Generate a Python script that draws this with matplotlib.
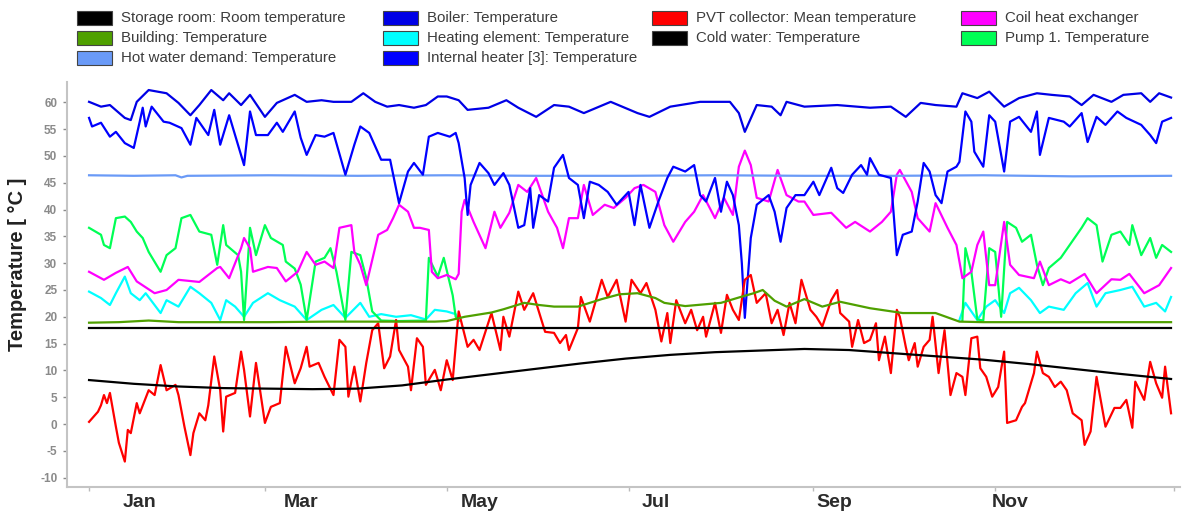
import matplotlib.pyplot as plt
from matplotlib.patches import Rectangle
import numpy as np

plt.rcParams['font.family'] = ['Liberation Sans', 'DejaVu Sans']
plt.rcParams['axes.unicode_minus'] = False

# day of year -> temperature [degC]
storage_room = [(0, 17.9), (363, 17.9)]
cold_water = [(0, 8.2), (15, 7.5), (30, 7.0), (45, 6.7), (60, 6.6), (75, 6.5), (90, 6.6),
              (105, 7.2), (120, 8.3), (135, 9.3), (150, 10.3), (165, 11.3), (180, 12.2),
              (195, 12.9), (210, 13.4), (225, 13.7), (240, 14.0), (255, 13.8), (270, 13.2),
              (285, 12.6), (300, 12.0), (315, 11.2), (330, 10.3), (345, 9.4), (363, 8.4)]
building = [(0, 18.9), (10, 19.0), (20, 19.3), (30, 19.0), (45, 19.0), (60, 19.0), (80, 19.1),
            (100, 19.1), (116, 19.1), (120, 19.2), (126, 20.0), (135, 20.8), (139, 21.4),
            (146, 22.6), (151, 22.2), (156, 21.9), (164, 21.9), (172, 23.3), (178, 24.2),
            (184, 24.4), (190, 23.5), (193, 22.6), (200, 22.0), (208, 22.4), (212, 22.6),
            (218, 23.6), (223, 24.4), (226, 25.0), (230, 23.0), (234, 21.9), (240, 23.3),
            (246, 21.9), (252, 22.8), (262, 21.6), (273, 20.7), (284, 20.7), (292, 19.1),
            (300, 19.0), (330, 19.0), (363, 19.0)]
hot_water = [(0, 46.4), (15, 46.3), (29, 46.4), (31, 46.0), (33, 46.3), (60, 46.4), (90, 46.3),
             (120, 46.4), (150, 46.3), (180, 46.3), (210, 46.4), (240, 46.3), (270, 46.3),
             (300, 46.4), (330, 46.2), (363, 46.3)]
boiler = [(0, 60.1), (4, 59.2), (7, 59.5), (12, 57.1), (14, 56.7), (16, 60.1), (20, 62.3),
          (26, 61.7), (30, 59.9), (34, 57.6), (37, 59.5), (41, 62.3), (45, 60.4), (47, 61.7),
          (51, 59.5), (54, 61.4), (59, 57.3), (63, 59.9), (69, 61.4), (73, 60.1), (78, 60.4),
          (82, 60.1), (88, 60.1), (92, 61.7), (96, 60.1), (100, 59.2), (104, 59.5), (109, 59.0),
          (113, 59.5), (117, 61.1), (120, 61.1), (124, 60.4), (127, 58.6), (134, 59.0),
          (140, 60.4), (144, 59.0), (150, 57.3), (156, 59.5), (161, 59.2), (166, 58.0),
          (175, 60.1), (184, 58.0), (188, 57.3), (195, 59.2), (205, 60.1), (215, 60.1),
          (218, 58.0), (220, 54.5), (224, 59.5), (229, 59.2), (232, 57.6), (234, 60.1),
          (240, 59.2), (251, 59.5), (262, 59.0), (269, 59.2), (274, 57.3), (279, 59.9),
          (284, 59.5), (291, 59.2), (293, 61.7), (298, 60.8), (302, 62.0), (307, 59.2),
          (312, 60.8), (318, 61.7), (323, 61.4), (329, 61.1), (333, 59.5), (337, 61.4),
          (343, 60.1), (347, 61.4), (353, 61.7), (356, 60.1), (359, 61.7), (363, 60.9)]
internal_heater = [(0, 57.1), (1, 55.5), (4, 56.2), (7, 53.6), (9, 54.5), (12, 52.4), (15, 51.5),
                   (17, 56.4), (18, 59.0), (19, 55.5), (21, 59.2), (25, 56.4), (27, 56.2),
                   (31, 55.2), (34, 52.1), (36, 57.1), (40, 53.9), (42, 58.6), (44, 52.1),
                   (47, 57.6), (52, 48.3), (54, 58.3), (56, 53.9), (60, 53.9), (63, 56.2),
                   (65, 54.5), (69, 58.3), (71, 53.4), (73, 50.2), (76, 53.9), (79, 53.6),
                   (82, 54.3), (86, 46.5), (89, 52.1), (91, 55.5), (94, 54.3), (98, 49.3),
                   (101, 49.3), (104, 41.2), (107, 47.1), (109, 48.7), (112, 46.5), (114, 53.6),
                   (117, 54.3), (121, 53.6), (123, 54.3), (124, 52.4), (126, 45.9), (127, 39.0),
                   (128, 44.6), (131, 48.7), (134, 46.8), (136, 44.6), (139, 46.8), (141, 44.6),
                   (144, 36.6), (146, 37.1), (148, 44.0), (149, 36.6), (151, 42.7), (154, 41.5),
                   (156, 47.8), (159, 50.2), (161, 45.9), (164, 44.6), (166, 38.4), (168, 45.2),
                   (171, 44.6), (174, 43.3), (177, 40.9), (181, 43.3), (183, 37.1), (185, 44.6),
                   (188, 36.6), (191, 41.5), (194, 45.9), (196, 48.0), (200, 47.1), (203, 48.3),
                   (205, 42.7), (207, 41.5), (210, 45.9), (212, 39.6), (214, 45.2), (216, 42.7),
                   (218, 37.1), (219, 30.0), (220, 19.8), (222, 34.7), (224, 40.9), (228, 42.7),
                   (230, 39.6), (232, 34.0), (234, 40.3), (237, 42.7), (240, 42.7), (243, 45.2),
                   (245, 42.7), (249, 47.8), (251, 44.0), (253, 43.1), (256, 46.5), (259, 48.3),
                   (261, 46.5), (262, 49.6), (265, 46.5), (269, 45.9), (271, 31.5), (273, 35.3),
                   (276, 35.9), (278, 41.5), (280, 48.7), (282, 47.1), (284, 42.7), (286, 41.2),
                   (288, 47.1), (291, 48.0), (292, 48.9), (294, 58.3), (296, 56.4), (297, 50.8),
                   (300, 48.0), (302, 57.6), (304, 56.4), (307, 47.1), (309, 56.4), (312, 57.3),
                   (316, 54.5), (318, 58.3), (319, 50.2), (322, 57.1), (327, 56.4), (329, 55.5),
                   (333, 58.0), (335, 52.6), (338, 57.3), (341, 55.8), (345, 58.3), (348, 57.1),
                   (353, 55.8), (356, 53.9), (358, 52.4), (360, 56.4), (363, 57.1)]
heating_element = [(0, 24.7), (4, 23.5), (7, 22.2), (9, 24.4), (12, 27.5), (14, 24.4), (17, 23.1),
                   (19, 24.4), (24, 20.7), (26, 23.1), (30, 21.9), (34, 25.6), (37, 24.4),
                   (41, 22.6), (44, 19.4), (46, 23.1), (49, 21.9), (52, 20.0), (55, 22.6),
                   (60, 24.4), (64, 23.1), (69, 21.9), (73, 19.4), (78, 21.3), (82, 22.2),
                   (86, 19.8), (91, 22.6), (94, 20.0), (98, 20.5), (103, 20.0), (108, 20.3),
                   (113, 19.5), (116, 21.3), (120, 21.0), (123, 20.5), (124, 19.2),
                   (200, np.nan),
                   (292, 19.4), (294, 22.6), (298, 19.4), (301, 21.9), (304, 23.1), (307, 20.7),
                   (309, 24.4), (312, 25.4), (316, 23.1), (319, 20.7), (322, 21.9), (327, 21.3),
                   (331, 24.4), (335, 26.3), (338, 21.9), (341, 24.4), (346, 25.0), (350, 25.6),
                   (354, 21.9), (358, 22.6), (361, 21.0), (363, 23.7)]
coil_hx = [(0, 28.4), (5, 26.9), (9, 28.2), (13, 29.3), (16, 26.6), (22, 24.4), (26, 25.0),
           (30, 26.9), (37, 26.5), (43, 29.1), (44, 29.3), (47, 27.2), (51, 32.8), (52, 34.7),
           (54, 32.8), (55, 28.4), (60, 29.3), (63, 29.1), (66, 26.6), (70, 28.4), (73, 32.1),
           (76, 29.7), (79, 30.3), (82, 29.1), (84, 36.6), (88, 37.1), (89, 32.1), (91, 29.7),
           (93, 25.9), (97, 35.3), (100, 36.2), (102, 38.4), (104, 40.9), (107, 39.6),
           (109, 36.6), (111, 36.6), (114, 36.2), (115, 28.4), (117, 27.2), (120, 27.8),
           (123, 27.0), (124, 28.0), (125, 39.6), (126, 41.8), (129, 37.7), (133, 32.8),
           (136, 39.6), (138, 36.6), (141, 39.4), (144, 44.6), (147, 43.3), (150, 45.9),
           (154, 39.6), (157, 36.6), (159, 32.8), (161, 38.4), (164, 38.4), (166, 44.6),
           (169, 39.0), (173, 40.9), (176, 40.3), (180, 42.2), (183, 44.0), (186, 44.6),
           (190, 43.3), (193, 37.1), (196, 34.0), (200, 37.7), (203, 39.6), (206, 42.7),
           (210, 38.4), (213, 42.2), (216, 39.0), (218, 48.0), (220, 51.0), (222, 48.3),
           (224, 42.2), (228, 41.5), (231, 47.4), (234, 42.7), (238, 41.5), (240, 41.5),
           (243, 39.0), (249, 39.4), (254, 36.6), (257, 37.7), (262, 35.9), (266, 37.7),
           (269, 39.6), (271, 46.5), (272, 47.4), (276, 43.3), (278, 38.4), (282, 35.9),
           (284, 41.2), (288, 36.6), (291, 33.4), (293, 27.2), (296, 28.4), (298, 33.4),
           (300, 35.9), (302, 25.9), (304, 25.9), (307, 37.7), (309, 29.7), (312, 27.8),
           (317, 27.2), (319, 30.3), (322, 25.9), (326, 27.0), (329, 26.3), (334, 28.0),
           (338, 24.4), (343, 27.0), (346, 26.9), (349, 28.0), (354, 24.4), (359, 25.9),
           (363, 29.1)]
pump_1 = [(0, 36.6), (4, 35.3), (5, 33.4), (7, 32.8), (9, 38.4), (12, 38.7), (14, 37.7),
          (16, 35.9), (18, 34.7), (20, 32.1), (24, 28.4), (26, 31.5), (29, 32.8), (31, 38.4),
          (34, 39.0), (37, 35.9), (41, 35.3), (43, 29.7), (45, 37.1), (46, 33.4), (50, 31.5),
          (51, 28.4), (52, 19.4), (54, 36.6), (56, 31.5), (59, 37.1), (61, 34.7), (65, 33.4),
          (66, 30.3), (69, 29.0), (71, 26.0), (73, 19.4), (76, 30.3), (79, 31.0), (81, 32.8),
          (83, 28.4), (86, 19.4), (88, 32.1), (91, 31.5), (93, 27.2), (95, 21.0), (98, 19.3),
          (104, 19.2), (113, 19.3), (114, 31.0), (117, 27.5), (119, 31.0), (122, 24.0),
          (123, 20.0), (124, 19.3),
          (200, np.nan),
          (293, 19.4), (294, 32.8), (296, 28.4), (298, 19.5), (300, 19.3), (302, 32.8),
          (304, 32.1), (306, 20.0), (308, 37.7), (311, 36.6), (313, 34.0), (316, 35.3),
          (318, 29.7), (320, 25.9), (322, 29.1), (326, 31.0), (329, 33.4), (333, 36.6),
          (335, 38.4), (338, 37.1), (340, 30.3), (343, 35.3), (346, 35.9), (349, 33.4),
          (350, 37.1), (353, 31.5), (356, 34.7), (358, 31.0), (360, 33.4), (363, 32.1)]
pvt_collector = [(0, 0.4), (3, 2.3), (4, 3.5), (5, 5.4), (6, 3.9), (7, 5.8), (9, -0.5),
                 (10, -3.5), (12, -7.0), (13, -1.1), (14, -1.7), (16, 3.9), (17, 2.0), (20, 6.3),
                 (22, 5.4), (24, 11.0), (26, 6.3), (29, 7.3), (30, 5.4), (32, -0.5), (34, -5.8),
                 (35, -1.7), (37, 2.0), (39, 0.7), (40, 3.5), (42, 12.6), (44, 6.3), (45, -1.4),
                 (46, 5.1), (49, 5.8), (51, 13.5), (52, 10.1), (54, 1.4), (56, 11.4), (59, 0.2),
                 (61, 3.2), (64, 3.9), (66, 14.4), (69, 7.6), (71, 10.4), (73, 14.4), (74, 10.7),
                 (77, 11.4), (79, 8.8), (82, 5.4), (84, 15.7), (86, 14.4), (87, 5.1), (89, 10.7),
                 (91, 4.2), (93, 11.4), (95, 17.5), (97, 18.8), (99, 10.4), (101, 12.6),
                 (103, 19.4), (104, 13.8), (107, 10.7), (108, 6.3), (110, 16.0), (112, 14.4),
                 (113, 7.3), (116, 10.1), (118, 6.3), (120, 11.9), (122, 8.2), (124, 21.0),
                 (127, 14.4), (129, 15.7), (131, 13.8), (135, 20.7), (138, 13.8), (139, 20.0),
                 (141, 16.3), (144, 24.7), (146, 21.3), (149, 24.4), (153, 17.2), (156, 17.0),
                 (158, 15.1), (160, 16.6), (161, 13.8), (164, 17.9), (165, 23.7), (168, 19.1),
                 (172, 26.9), (174, 23.7), (177, 26.9), (180, 19.1), (182, 26.9), (185, 24.4),
                 (187, 26.3), (190, 21.3), (192, 15.4), (194, 20.7), (195, 15.1), (197, 23.1),
                 (200, 18.8), (202, 21.3), (204, 17.5), (206, 20.0), (207, 16.3), (210, 22.6),
                 (212, 17.0), (214, 24.1), (216, 21.3), (218, 19.4), (220, 26.9), (222, 27.8),
                 (224, 22.6), (227, 24.4), (229, 18.8), (231, 21.3), (233, 16.6), (235, 22.6),
                 (237, 18.8), (239, 26.9), (242, 21.3), (244, 20.0), (246, 18.2), (249, 23.1),
                 (251, 25.0), (252, 20.7), (255, 19.1), (256, 14.4), (258, 19.4), (260, 15.1),
                 (262, 15.7), (264, 18.8), (265, 11.9), (267, 16.3), (269, 9.5), (271, 21.3),
                 (272, 20.0), (274, 14.4), (275, 11.9), (277, 15.1), (278, 10.7), (280, 14.4),
                 (282, 15.7), (283, 20.0), (285, 9.5), (287, 17.5), (289, 5.4), (291, 9.5),
                 (293, 8.8), (294, 5.4), (296, 16.0), (298, 16.3), (299, 10.4), (301, 8.8),
                 (303, 5.1), (305, 6.9), (307, 13.5), (308, 0.2), (311, 0.7), (313, 3.2),
                 (314, 3.9), (317, 9.5), (318, 13.5), (320, 9.5), (322, 8.8), (324, 6.9),
                 (326, 7.9), (328, 6.3), (330, 2.0), (333, 0.7), (334, -3.9), (336, -1.4),
                 (338, 8.8), (341, -0.5), (344, 3.0), (346, 3.0), (348, 4.5), (350, -0.7),
                 (351, 7.9), (354, 4.5), (356, 11.6), (358, 7.6), (360, 4.9), (361, 10.7),
                 (363, 2.0)]

month_labels = ['Jan', 'Mar', 'May', 'Jul', 'Sep', 'Nov']
month_label_days = [17, 71, 131, 190, 250, 309]
month_tick_days = [0, 59, 120, 181, 243, 304, 364]

# label, colour, data, legend column, legend row
series = [
    ('Storage room: Room temperature', '#000000', storage_room, 0, 0),
    ('Building: Temperature', '#4FA000', building, 0, 1),
    ('Hot water demand: Temperature', '#6A9AF7', hot_water, 0, 2),
    ('Boiler: Temperature', '#0000E6', boiler, 1, 0),
    ('Heating element: Temperature', '#00FFFF', heating_element, 1, 1),
    ('Internal heater [3]: Temperature', '#0000FF', internal_heater, 1, 2),
    ('PVT collector: Mean temperature', '#FF0000', pvt_collector, 2, 0),
    ('Cold water: Temperature', '#000000', cold_water, 2, 1),
    ('Coil heat exchanger', '#FF00FF', coil_hx, 3, 0),
    ('Pump 1. Temperature', '#00FF55', pump_1, 3, 1),
]
draw_order = [4, 9, 8, 2, 3, 5, 6, 1, 0, 7]

W, H = 1183, 513
fig = plt.figure(figsize=(W / 100, H / 100), dpi=100)
ax = fig.add_axes([67 / W, 1 - 487 / H, (1180 - 67) / W, (487 - 82) / H])

for i in draw_order:
    name, col, data, _, _ = series[i]
    arr = np.array(data, dtype=float)
    ax.plot(arr[:, 0], arr[:, 1], color=col, lw=1.6, solid_joinstyle='round')

ax.set_xlim(-7.4, 366)
ax.set_ylim(-11.75, 63.8)
ax.set_yticks(np.arange(-10, 61, 5))
ax.tick_params(axis='y', colors='#8a8a8a', labelsize=8.5, length=3, width=1, pad=4)
for lab in ax.get_yticklabels():
    lab.set_fontweight('bold')
ax.set_xticks(month_tick_days)
ax.set_xticklabels([])
ax.set_xticks(month_label_days, minor=True)
ax.set_xticklabels(month_labels, minor=True)
ax.tick_params(axis='x', which='major', colors='#bbbbbb', length=3, width=1)
ax.tick_params(axis='x', which='minor', length=0, labelsize=14, pad=5, labelcolor='#2b2b2b')
for lab in ax.get_xticklabels(minor=True):
    lab.set_fontweight('bold')
for s in ['top', 'right']:
    ax.spines[s].set_visible(False)
for s in ['left', 'bottom']:
    ax.spines[s].set_color('#c4c4c4')
    ax.spines[s].set_linewidth(1.5)
ax.set_ylabel('Temperature [ °C ]', fontsize=14.5, fontweight='bold', color='#222222')
ax.yaxis.set_label_coords(-0.036, 0.55)

# legend drawn as boxes + text in pixel positions
col_x = [77, 383, 652, 961]
row_y = [18, 38, 58]
for name, col, data, c, r in series:
    x0, yc = col_x[c], row_y[r]
    fig.patches.append(Rectangle((x0 / W, 1 - (yc + 7) / H), 35 / W, 14 / H,
                                 transform=fig.transFigure, facecolor=col,
                                 edgecolor='#444444', lw=0.8))
    fig.text((x0 + 44) / W, 1 - yc / H, name, fontsize=10.8, color='#3c3c3c',
             va='center', ha='left')

fig.savefig('out.png', dpi=100)
